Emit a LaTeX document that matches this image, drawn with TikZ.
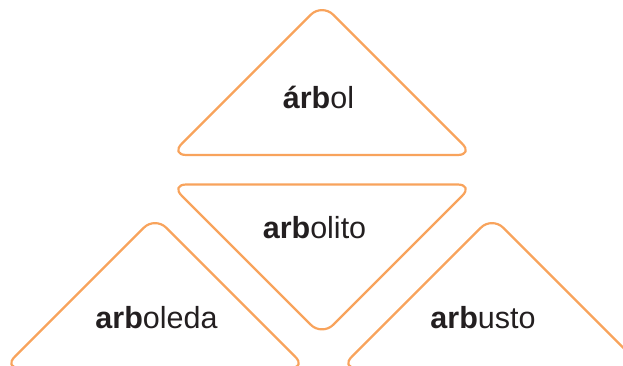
\documentclass[tikz,border=0pt]{standalone}
\usepackage{fontspec}
\setmainfont{Liberation Sans}
\definecolor{tri}{RGB}{248,163,92}
\definecolor{ink}{RGB}{35,31,32}
\begin{document}
\begin{tikzpicture}[x=1pt,y=1pt,
  tribox/.style={draw=tri,line width=2.2pt,rounded corners=16pt,line join=round},
  word/.style={anchor=base,text=ink,font=\fontsize{30.5}{36}\selectfont,inner sep=0pt}]
\useasboundingbox (0,0) rectangle (623,366);
\clip (0,0) rectangle (623,366);
\draw[tribox] (170.5,211) -- (322,362.5) -- (473.5,211) -- cycle;
\draw[tribox] (170.5,181.5) -- (473.5,181.5) -- (322,30) -- cycle;
\draw[tribox] (3.5,-2) -- (155,149.5) -- (306.5,-2) -- cycle;
\draw[tribox] (340.5,-2) -- (492,149.5) -- (643.5,-2) -- cycle;
\node[word] (w1) at (318.5,257) {\textbf{árb}ol};
\node[word] (w2) at (314.5,127) {\textbf{arb}olito};
\node[word] (w3) at (156.5,37) {\textbf{arb}oleda};
\node[word] (w4) at (483,37) {\textbf{arb}usto};
\end{tikzpicture}
\end{document}
